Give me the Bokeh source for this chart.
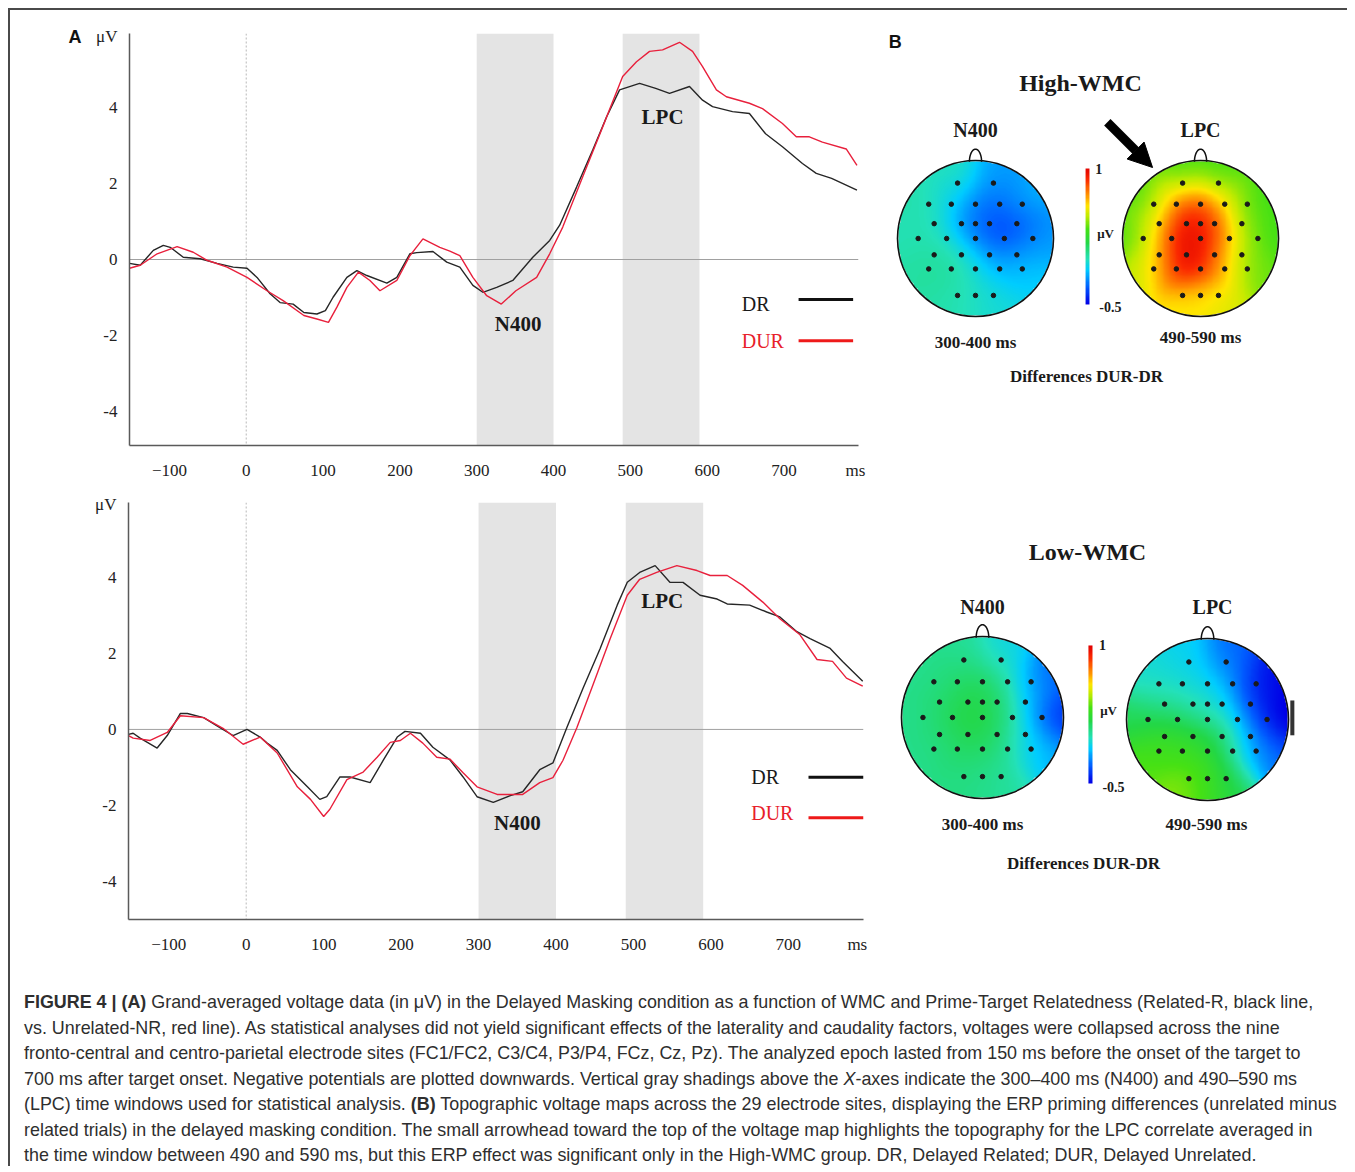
import numpy as np
from bokeh.plotting import figure
from bokeh.models import (Range1d, Span, BoxAnnotation, Label, Div, LinearColorMapper,
                          FixedTicker, Arrow, NormalHead, LinearAxis, Spacer)
from bokeh.layouts import row, column
from bokeh.embed import file_html
from bokeh.resources import INLINE

# ---------------- data: ERP curves (time in ms, amplitude in µV) ----------------
top_dr_t = [-152, -138, -121, -108, -99, -82, -60, -38, -17, 1, 14, 31, 44, 61, 75, 92, 103, 113, 131, 144,
            157, 183, 196, 213, 222, 243, 261, 278, 295, 308, 326, 347, 373, 395, 408, 430, 451, 469, 486,
            512, 533, 551, 577, 594, 607, 633, 655, 676, 698, 724, 742, 762, 795]
top_dr_v = [-0.10, -0.15, 0.24, 0.37, 0.32, 0.06, 0.02, -0.10, -0.20, -0.23, -0.47, -0.90, -1.13, -1.17, -1.39,
            -1.43, -1.34, -0.99, -0.47, -0.29, -0.42, -0.62, -0.47, 0.15, 0.18, 0.21, -0.07, -0.20, -0.68, -0.86,
            -0.73, -0.55, 0.06, 0.50, 0.90, 1.90, 2.87, 3.74, 4.45, 4.62, 4.49, 4.36, 4.54, 4.18, 4.01, 3.88,
            3.83, 3.30, 2.96, 2.52, 2.26, 2.13, 1.82]
top_dur_t = [-152, -138, -116, -90, -69, -51, -25, 1, 27, 48, 75, 92, 107, 118, 131, 146, 161, 174, 196, 213,
             230, 252, 265, 278, 295, 313, 332, 351, 378, 395, 412, 438, 464, 490, 508, 525, 542, 564, 581,
             594, 612, 625, 655, 672, 698, 716, 733, 750, 781, 795]
top_dur_v = [-0.23, -0.15, 0.15, 0.34, 0.19, -0.02, -0.20, -0.47, -0.82, -1.08, -1.47, -1.56, -1.65, -1.25,
             -0.73, -0.33, -0.55, -0.82, -0.55, 0.10, 0.54, 0.32, 0.22, 0.10, -0.47, -0.95, -1.17, -0.82, -0.47,
             0.15, 0.85, 2.17, 3.48, 4.80, 5.19, 5.46, 5.50, 5.70, 5.46, 5.06, 4.45, 4.27, 4.10, 3.96, 3.57,
             3.22, 3.22, 3.08, 2.90, 2.47]

bot_dr_t = [-152, -146, -137, -115, -102, -85, -76, -55, -34, -17, 1, 18, 27, 40, 57, 79, 95, 104, 121, 134,
            160, 177, 195, 205, 225, 241, 263, 280, 298, 319, 341, 357, 379, 396, 414, 435, 457, 479, 492,
            508, 528, 547, 564, 586, 608, 621, 650, 672, 689, 711, 728, 754, 770, 796]
bot_dr_v = [-0.13, -0.10, -0.23, -0.49, -0.16, 0.42, 0.42, 0.31, 0.05, -0.16, 0.00, -0.20, -0.36, -0.55,
            -1.06, -1.51, -1.84, -1.77, -1.25, -1.25, -1.40, -0.81, -0.20, -0.05, -0.10, -0.47, -0.80, -1.25,
            -1.77, -1.92, -1.74, -1.64, -1.06, -0.88, 0.05, 1.09, 2.13, 3.27, 3.87, 4.13, 4.31, 3.87, 3.87,
            3.53, 3.43, 3.30, 3.27, 3.09, 2.96, 2.57, 2.39, 2.13, 1.79, 1.27]
bot_dur_t = [-152, -146, -124, -102, -85, -55, -30, -4, 18, 40, 66, 83, 100, 108, 130, 151, 169, 186, 199,
             212, 228, 246, 263, 280, 298, 324, 357, 379, 396, 409, 427, 448, 470, 492, 508, 530, 556, 582,
             599, 621, 641, 667, 689, 715, 737, 757, 775, 796]
bot_dur_v = [-0.16, -0.23, -0.29, -0.08, 0.36, 0.31, 0.03, -0.39, -0.20, -0.62, -1.51, -1.84, -2.29, -2.10,
             -1.32, -1.12, -0.73, -0.34, -0.29, -0.10, -0.36, -0.73, -0.78, -1.14, -1.51, -1.71, -1.71, -1.40,
             -1.27, -0.81, 0.05, 1.19, 2.39, 3.53, 3.95, 4.13, 4.31, 4.18, 4.05, 4.05, 3.79, 3.35, 2.91, 2.49,
             1.84, 1.79, 1.35, 1.14]

analysis_windows = [(300, 400), (490, 590)]
x_ticks = [-100, 0, 100, 200, 300, 400, 500, 600, 700]
y_ticks = [-4, -2, 0, 2, 4]

# ---------------- data: topographic maps (29 electrodes, µV differences DUR-DR) ----------------
elec_names = ["Fp1", "Fp2", "F7", "F3", "Fz", "F4", "F8", "FC5", "FC1", "FCz", "FC2", "FC6",
              "T7", "C3", "Cz", "C4", "T8", "CP5", "CP1", "CP2", "CP6",
              "P7", "P3", "Pz", "P4", "P8", "O1", "Oz", "O2"]
elec_x = [-0.23, 0.23, -0.60, -0.31, 0.0, 0.31, 0.60, -0.53, -0.18, 0.0, 0.18, 0.53,
          -0.735, -0.37, 0.0, 0.37, 0.735, -0.53, -0.18, 0.18, 0.53,
          -0.60, -0.31, 0.0, 0.31, 0.60, -0.23, 0.0, 0.23]
elec_y = [0.71, 0.71, 0.44, 0.44, 0.44, 0.44, 0.44, 0.19, 0.19, 0.19, 0.19, 0.19,
          0.0, 0.0, 0.0, 0.0, 0.0, -0.21, -0.21, -0.21, -0.21,
          -0.39, -0.39, -0.39, -0.39, -0.39, -0.73, -0.73, -0.73]
high_n400 = [0.00, -0.20, 0.02, -0.10, -0.25, -0.30, -0.15, 0.02, -0.20, -0.32, -0.36, -0.35,
             0.00, -0.02, -0.26, -0.40, -0.20, 0.05, 0.03, -0.25, -0.22,
             0.03, 0.05, -0.02, -0.15, -0.10, 0.02, -0.02, -0.06]
high_lpc = [0.30, 0.30, 0.30, 0.80, 0.80, 0.60, 0.30, 0.55, 1.00, 0.95, 0.80, 0.35,
            0.30, 0.95, 1.00, 0.70, 0.30, 0.60, 1.05, 0.75, 0.40,
            0.45, 1.00, 0.95, 0.65, 0.35, 0.55, 0.60, 0.50]
low_n400 = [0.05, -0.08, 0.06, 0.12, 0.14, 0.06, -0.32, 0.10, 0.17, 0.18, 0.12, -0.12,
            0.06, 0.18, 0.20, 0.08, -0.45, 0.10, 0.18, 0.15, -0.08,
            0.06, 0.12, 0.12, 0.06, -0.18, 0.08, 0.08, 0.03]
low_lpc = [-0.10, -0.30, -0.05, -0.05, -0.10, -0.20, -0.50, 0.05, 0.00, -0.05, -0.10, -0.45,
           0.15, 0.15, 0.10, -0.05, -0.55, 0.25, 0.25, 0.15, -0.25,
           0.35, 0.30, 0.25, 0.10, -0.30, 0.42, 0.30, 0.15]
scale_low, scale_high = -0.5, 1.0

caption_lines = [
    "<b>FIGURE 4 | (A)</b> Grand-averaged voltage data (in μV) in the Delayed Masking condition as a function of WMC and Prime-Target Relatedness (Related-R, black line,",
    "vs. Unrelated-NR, red line). As statistical analyses did not yield significant effects of the laterality and caudality factors, voltages were collapsed across the nine",
    "fronto-central and centro-parietal electrode sites (FC1/FC2, C3/C4, P3/P4, FCz, Cz, Pz). The analyzed epoch lasted from 150 ms before the onset of the target to",
    "700 ms after target onset. Negative potentials are plotted downwards. Vertical gray shadings above the <i>X</i>-axes indicate the 300–400 ms (N400) and 490–590 ms",
    "(LPC) time windows used for statistical analysis. <b>(B)</b> Topographic voltage maps across the 29 electrode sites, displaying the ERP priming differences (unrelated minus",
    "related trials) in the delayed masking condition. The small arrowhead toward the top of the voltage map highlights the topography for the LPC correlate averaged in",
    "the time window between 490 and 590 ms, but this ERP effect was significant only in the High-WMC group. DR, Delayed Related; DUR, Delayed Unrelated.",
]

# ---------------- styles ----------------
SERIF = "Liberation Serif"
SANS = "Liberation Sans"
DR_COLOR = "#262626"
DUR_COLOR = "#e8203c"

stops = [(0.00, (0, 0, 230)), (0.12, (0, 90, 255)), (0.25, (0, 205, 255)), (0.33, (35, 225, 185)),
         (0.45, (35, 215, 70)), (0.55, (70, 225, 20)), (0.65, (195, 235, 0)), (0.72, (255, 230, 0)),
         (0.82, (255, 130, 0)), (0.92, (250, 40, 0)), (1.00, (225, 0, 0))]


def build_palette(n=256):
    fs = np.array([s[0] for s in stops])
    cols = np.array([s[1] for s in stops], dtype=float)
    out = []
    for f in np.linspace(0, 1, n):
        r, g, b = (int(round(np.interp(f, fs, cols[:, k]))) for k in range(3))
        out.append("#%02x%02x%02x" % (r, g, b))
    return out


palette = build_palette()
mapper = LinearColorMapper(palette=palette, low=scale_low, high=scale_high, nan_color="rgba(0,0,0,0)")


def erp_fig(w, h, mb, yr, dr_t, dr_v, dur_t, dur_v, uv_pos, ms_pos, with_a=False):
    p = figure(width=w, height=h, x_range=Range1d(-152, 797), y_range=Range1d(*yr),
               output_backend="svg", toolbar_location=None, title=None,
               min_border_left=mb[0], min_border_right=mb[1], min_border_top=mb[2], min_border_bottom=mb[3])
    p.outline_line_color = None
    p.grid.visible = False
    for l, r in analysis_windows:
        p.add_layout(BoxAnnotation(left=l, right=r, fill_color="#e4e4e4", fill_alpha=1.0,
                                   line_color=None, level="underlay"))
    p.add_layout(Span(location=0, dimension="height", line_color="#c4c4c4", line_dash="2 2",
                      line_width=1.2, level="underlay"))
    p.add_layout(Span(location=0, dimension="width", line_color="#a0a0a0", line_width=1, level="underlay"))
    p.line(dr_t, dr_v, line_color=DR_COLOR, line_width=1.4)
    p.line(dur_t, dur_v, line_color=DUR_COLOR, line_width=1.4)
    for ax in (p.xaxis[0], p.yaxis[0]):
        ax.axis_line_color = "#5a5a5a"
        ax.axis_line_width = 1.5
        ax.major_tick_line_color = None
        ax.minor_tick_line_color = None
        ax.major_label_text_font = SERIF
        ax.major_label_text_font_size = "17px"
        ax.major_label_text_color = "#222222"
    # unit labels "ms" and "μV" sit at the ends of the axes
    p.xaxis.ticker = FixedTicker(ticks=x_ticks + [ms_pos])
    p.xaxis.major_label_overrides = {ms_pos: "ms"}
    p.xaxis.major_tick_in = 0
    p.xaxis.major_tick_out = 0
    p.xaxis.major_label_standoff = 15
    p.yaxis.ticker = FixedTicker(ticks=y_ticks + [uv_pos])
    ov = {t: ("-%d" % abs(t) if t < 0 else "%d" % t) for t in y_ticks}
    ov[uv_pos] = "μV"
    p.yaxis.major_label_overrides = ov
    p.yaxis.major_tick_in = 0
    p.yaxis.major_tick_out = 0
    p.yaxis.major_label_standoff = 12
    if with_a:
        ax_a = LinearAxis(ticker=FixedTicker(ticks=[uv_pos]), major_label_overrides={uv_pos: "A"},
                          axis_line_color=None, major_tick_line_color=None, minor_tick_line_color=None,
                          major_label_text_font=SANS, major_label_text_font_style="bold",
                          major_label_text_font_size="18px", major_label_text_color="#111111",
                          major_label_standoff=12, major_tick_in=0, major_tick_out=0)
        p.add_layout(ax_a, "left")
    return p


def add_label(p, x, y, text, size, bold=False, color="#1a1a1a", font=SERIF, align="center"):
    p.add_layout(Label(x=x, y=y, text=text, text_font=font, text_font_size=size,
                       text_font_style="bold" if bold else "normal", text_color=color,
                       text_align=align, text_baseline="middle"))


# ---------------- panel A, top (High-WMC) ----------------
pA1 = erp_fig(870, 473, (119, 22, 23, 38), (-4.88, 5.93), top_dr_t, top_dr_v, top_dur_t, top_dur_v,
              uv_pos=5.85, ms_pos=793, with_a=True)
add_label(pA1, 354, -1.68, "N400", "21px", bold=True)
add_label(pA1, 542, 3.73, "LPC", "21px", bold=True)
add_label(pA1, 645, -1.16, "DR", "20px", align="left")
add_label(pA1, 645, -2.15, "DUR", "20px", color="#e8202a", align="left")
pA1.line([719, 790], [-1.05, -1.05], line_color="#111111", line_width=3)
pA1.line([719, 790], [-2.13, -2.13], line_color="#ee1a1a", line_width=3)

# ---------------- panel A, bottom (Low-WMC) ----------------
pA2 = erp_fig(870, 487, (118, 17, 19, 51), (-5.0, 5.97), bot_dr_t, bot_dr_v, bot_dur_t, bot_dur_v,
              uv_pos=5.93, ms_pos=789)
add_label(pA2, 350, -2.45, "N400", "21px", bold=True)
add_label(pA2, 537, 3.39, "LPC", "21px", bold=True)
add_label(pA2, 652, -1.26, "DR", "20px", align="left")
add_label(pA2, 652, -2.21, "DUR", "20px", color="#e8202a", align="left")
pA2.line([726, 797], [-1.26, -1.26], line_color="#111111", line_width=3)
pA2.line([726, 797], [-2.32, -2.32], line_color="#ee1a1a", line_width=3)


# ---------------- panel B: topographic maps ----------------
def topo_grid(vals, n=181, sigma=0.21):
    g = np.linspace(-1, 1, n)
    X, Y = np.meshgrid(g, g)
    ex = np.array(elec_x)[:, None, None]
    ey = np.array(elec_y)[:, None, None]
    w = np.exp(-((X - ex) ** 2 + (Y - ey) ** 2) / (2 * sigma ** 2))
    Z = (w * np.array(vals)[:, None, None]).sum(0) / w.sum(0)
    Z[X ** 2 + Y ** 2 > 1.0] = np.nan
    return Z


def topo_fig(w, h, mb, xr, yr):
    p = figure(width=w, height=h, x_range=Range1d(*xr), y_range=Range1d(*yr), output_backend="svg",
               toolbar_location=None, title=None, x_axis_location=None, y_axis_location=None,
               min_border_left=0, min_border_right=0, min_border_top=mb[0], min_border_bottom=mb[1])
    p.outline_line_color = None
    p.grid.visible = False
    return p


def draw_head(p, cx, cy, vals):
    p.image(image=[topo_grid(vals)], x=cx - 1, y=cy - 1, dw=2, dh=2, color_mapper=mapper)
    th = np.linspace(0, np.pi, 40)
    p.line(cx + 0.078 * np.cos(th), cy + 0.985 + 0.16 * np.sin(th), line_color="#111111", line_width=1.5)
    p.circle(x=[cx], y=[cy], radius=1.0, fill_color=None, line_color="#111111", line_width=1.6)
    p.scatter(x=[cx + e for e in elec_x], y=[cy + e for e in elec_y], size=4.5,
              color="#1a1a1a", marker="circle")


def draw_colorbar(p, x, y0, y1, w):
    p.image(image=[np.linspace(scale_low, scale_high, 120)[:, None]], x=x - w / 2, y=y0, dw=w, dh=y1 - y0,
            color_mapper=mapper)


# High-WMC (frame shares the top/bottom borders of the ERP plot beside it)
pB1 = topo_fig(467, 473, (23, 38), (-1.218, 4.769), (-2.654, 2.628))
draw_head(pB1, 0.0, 0.0, high_n400)
draw_head(pB1, 2.885, 0.0, high_lpc)
draw_colorbar(pB1, 1.436, -0.846, 0.897, 0.05)
add_label(pB1, -1.03, 2.52, "B", "18px", bold=True, font=SANS, color="#111111")
add_label(pB1, 1.346, 1.987, "High-WMC", "24px", bold=True)
add_label(pB1, 0.0, 1.385, "N400", "20px", bold=True)
add_label(pB1, 2.885, 1.385, "LPC", "20px", bold=True)
add_label(pB1, 1.58, 0.897, "1", "14px", bold=True)
add_label(pB1, 1.667, 0.064, "μV", "13px", bold=True)
add_label(pB1, 1.73, -0.872, "-0.5", "14px", bold=True)
add_label(pB1, 0.0, -1.333, "300-400 ms", "17px", bold=True)
add_label(pB1, 2.885, -1.269, "490-590 ms", "17px", bold=True)
add_label(pB1, 1.423, -1.769, "Differences DUR-DR", "17px", bold=True)
pB1.add_layout(Arrow(end=NormalHead(size=24, fill_color="#000000", line_color="#000000"),
                     x_start=1.69, y_start=1.49, x_end=2.27, y_end=0.91,
                     line_width=9, line_color="#000000"))

# Low-WMC
pB2 = topo_fig(467, 487, (19, 51), (-1.259, 4.506), (-2.494, 2.654))
draw_head(pB2, 0.0, 0.0, low_n400)
draw_head(pB2, 2.778, -0.025, low_lpc)
draw_colorbar(pB2, 1.333, -0.815, 0.889, 0.05)
add_label(pB2, 1.296, 2.037, "Low-WMC", "24px", bold=True)
add_label(pB2, 0.0, 1.358, "N400", "20px", bold=True)
add_label(pB2, 2.84, 1.358, "LPC", "20px", bold=True)
add_label(pB2, 1.48, 0.889, "1", "14px", bold=True)
add_label(pB2, 1.556, 0.086, "μV", "13px", bold=True)
add_label(pB2, 1.617, -0.864, "-0.5", "14px", bold=True)
add_label(pB2, 0.0, -1.321, "300-400 ms", "17px", bold=True)
add_label(pB2, 2.765, -1.321, "490-590 ms", "17px", bold=True)
add_label(pB2, 1.247, -1.802, "Differences DUR-DR", "17px", bold=True)
pB2.add_layout(BoxAnnotation(left=3.80, right=3.85, bottom=-0.22, top=0.21, fill_color="#333333",
                             fill_alpha=1.0, line_color=None))

# ---------------- caption & frame ----------------
caption_html = ("<div style='font-family:\"Liberation Sans\", Arial, sans-serif; font-size:17.9px; "
                "line-height:25.5px; color:#2e2e2e; white-space:nowrap; padding:20px 0 0 14px;'>"
                + "<br>".join(caption_lines) + "</div>")
caption = Div(text=caption_html, width=1337, height=196, margin=(0, 0, 0, 0))
top_bar = Div(text="", width=1339, height=2, margin=(0, 0, 0, 0), styles={"background-color": "#4a4a4a"})
left_bar = Div(text="", width=2, height=1156, margin=(0, 0, 0, 0), styles={"background-color": "#4a4a4a"})

body = column(row(pA1, pB1), row(pA2, pB2), caption)
framed = column(top_bar, row(left_bar, body))
root = row(Spacer(width=8, height=8), column(Spacer(width=8, height=8), framed))

open("out.html", "w").write(file_html(root, INLINE))
